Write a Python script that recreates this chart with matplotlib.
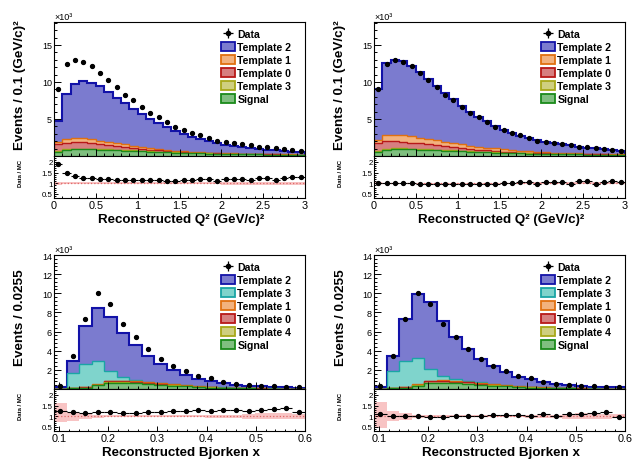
import numpy as np
import matplotlib.pyplot as plt
from matplotlib.ticker import MultipleLocator, FuncFormatter
from matplotlib.patches import Patch
from matplotlib.lines import Line2D

plt.rcParams['font.family'] = ['Liberation Sans', 'DejaVu Sans']

W, H = 637, 464

# ---------------- Q^2 : 30 bins of 0.1 (GeV/c)^2, counts in 10^3 ----------------
q2_edges = np.round(np.arange(31) * 0.1, 4)
q2_data = [8.99, 12.40, 12.90, 12.75, 12.10, 11.20, 10.30, 9.30, 8.27, 7.55,
           6.66, 5.85, 5.31, 4.55, 3.97, 3.56, 3.16, 2.85, 2.49, 2.09,
           1.90, 1.73, 1.59, 1.46, 1.28, 1.19, 1.05, 0.96, 0.83, 0.74]

# pre-fit templates
q2_pre_signal = [0.60, 0.83, 0.92, 0.92, 0.92, 0.87, 0.83, 0.78, 0.74, 0.70,
                 0.65, 0.60, 0.56, 0.51, 0.47, 0.43, 0.39, 0.36, 0.33, 0.30,
                 0.28, 0.26, 0.24, 0.22, 0.21, 0.19, 0.18, 0.17, 0.16, 0.15]
q2_pre_t3 = [0.06, 0.07, 0.07, 0.07, 0.07, 0.06, 0.06, 0.06, 0.05, 0.05,
             0.05, 0.04, 0.04, 0.04, 0.03, 0.03, 0.03, 0.03, 0.02, 0.02,
             0.02, 0.02, 0.02, 0.02, 0.01, 0.01, 0.01, 0.01, 0.01, 0.01]
q2_pre_t0 = [0.94, 0.92, 0.87, 0.85, 0.74, 0.67, 0.61, 0.53, 0.44, 0.35,
             0.26, 0.23, 0.16, 0.12, 0.09, 0.06, 0.05, 0.04, 0.04, 0.03,
             0.02, 0.02, 0.02, 0.02, 0.02, 0.02, 0.02, 0.02, 0.02, 0.02]
q2_pre_t1 = [0.26, 0.48, 0.54, 0.56, 0.53, 0.48, 0.45, 0.40, 0.37, 0.31,
             0.28, 0.25, 0.20, 0.16, 0.15, 0.13, 0.09, 0.07, 0.06, 0.05,
             0.05, 0.04, 0.03, 0.03, 0.03, 0.03, 0.02, 0.02, 0.02, 0.02]
q2_pre_t2 = [2.83, 6.04, 7.35, 7.75, 7.64, 7.32, 6.70, 6.13, 5.50, 4.99,
             4.40, 3.90, 3.49, 3.07, 2.68, 2.35, 2.06, 1.80, 1.57, 1.36,
             1.16, 1.03, 0.89, 0.81, 0.68, 0.60, 0.55, 0.46, 0.39, 0.32]
q2_pre_ratio = [1.92, 1.49, 1.33, 1.27, 1.24, 1.19, 1.18, 1.17, 1.17, 1.17,
                1.17, 1.17, 1.17, 1.13, 1.13, 1.15, 1.17, 1.20, 1.20, 1.13,
                1.22, 1.22, 1.22, 1.15, 1.27, 1.27, 1.15, 1.27, 1.28, 1.28]
q2_pre_ratio_err = [0.03, 0.02, 0.02, 0.02, 0.02, 0.02, 0.02, 0.02, 0.02, 0.02,
                    0.02, 0.02, 0.02, 0.02, 0.02, 0.02, 0.02, 0.03, 0.03, 0.03,
                    0.03, 0.03, 0.03, 0.03, 0.04, 0.04, 0.04, 0.04, 0.04, 0.04]
q2_pre_band = [0.06, 0.05, 0.05, 0.05, 0.05, 0.05, 0.05, 0.05, 0.05, 0.05,
               0.05, 0.05, 0.05, 0.05, 0.05, 0.05, 0.05, 0.05, 0.05, 0.05,
               0.06, 0.06, 0.06, 0.06, 0.06, 0.06, 0.06, 0.06, 0.07, 0.07]

# post-fit templates
q2_post_signal = [0.60, 0.87, 0.96, 0.96, 0.92, 0.87, 0.83, 0.78, 0.74, 0.70,
                  0.65, 0.60, 0.56, 0.51, 0.47, 0.43, 0.39, 0.36, 0.33, 0.30,
                  0.28, 0.26, 0.24, 0.22, 0.21, 0.19, 0.18, 0.17, 0.16, 0.15]
q2_post_t3 = [0.06, 0.07, 0.07, 0.07, 0.07, 0.06, 0.06, 0.06, 0.05, 0.05,
              0.05, 0.04, 0.04, 0.04, 0.03, 0.03, 0.03, 0.03, 0.02, 0.02,
              0.02, 0.02, 0.02, 0.02, 0.01, 0.01, 0.01, 0.01, 0.01, 0.01]
q2_post_t0 = [1.11, 1.14, 1.01, 0.92, 0.83, 0.80, 0.71, 0.62, 0.53, 0.44,
              0.40, 0.32, 0.27, 0.23, 0.20, 0.14, 0.11, 0.08, 0.08, 0.07,
              0.05, 0.04, 0.04, 0.04, 0.04, 0.04, 0.03, 0.03, 0.03, 0.03]
q2_post_t1 = [0.40, 0.82, 0.86, 0.85, 0.85, 0.76, 0.70, 0.67, 0.63, 0.58,
              0.50, 0.45, 0.41, 0.36, 0.33, 0.31, 0.29, 0.26, 0.22, 0.19,
              0.17, 0.15, 0.12, 0.10, 0.09, 0.08, 0.07, 0.06, 0.05, 0.04]
q2_post_t2 = [6.82, 9.60, 10.05, 9.98, 9.53, 8.91, 8.15, 7.37, 6.50, 5.88,
              5.15, 4.54, 4.05, 3.55, 3.05, 2.64, 2.31, 2.03, 1.80, 1.59,
              1.36, 1.25, 1.14, 1.09, 0.87, 0.79, 0.74, 0.64, 0.55, 0.48]
q2_post_ratio = [1.00, 1.00, 1.00, 1.00, 1.00, 0.99, 0.99, 0.99, 0.99, 0.99,
                 0.99, 0.99, 0.99, 0.97, 0.99, 1.00, 1.01, 1.04, 1.04, 0.98,
                 1.04, 1.04, 1.04, 0.98, 1.09, 1.09, 0.98, 1.06, 1.09, 1.07]
q2_post_ratio_err = [0.02, 0.01, 0.01, 0.01, 0.01, 0.01, 0.01, 0.01, 0.01, 0.01,
                     0.01, 0.01, 0.02, 0.02, 0.02, 0.02, 0.02, 0.02, 0.02, 0.02,
                     0.03, 0.03, 0.03, 0.03, 0.03, 0.03, 0.03, 0.04, 0.04, 0.04]
q2_post_band = [0.04, 0.03, 0.03, 0.03, 0.03, 0.03, 0.03, 0.03, 0.03, 0.03,
                0.03, 0.03, 0.03, 0.03, 0.03, 0.03, 0.03, 0.03, 0.04, 0.04,
                0.04, 0.04, 0.04, 0.04, 0.05, 0.05, 0.05, 0.05, 0.05, 0.05]

# ---------------- Bjorken x : 20 bins of 0.0255 starting at 0.09 ----------------
x_edges = np.round(0.09 + 0.0255 * np.arange(21), 5)
x_data = [0.27, 3.49, 7.27, 10.00, 8.86, 6.82, 5.43, 4.19, 3.18, 2.42,
          1.83, 1.31, 1.13, 0.72, 0.54, 0.44, 0.34, 0.27, 0.20, 0.16]

x_pre_signal = [0.01, 0.07, 0.14, 0.38, 0.66, 0.66, 0.60, 0.53, 0.44, 0.36,
                0.27, 0.20, 0.15, 0.11, 0.08, 0.06, 0.05, 0.04, 0.03, 0.02]
x_pre_t4 = [0.00, 0.01, 0.01, 0.02, 0.03, 0.03, 0.03, 0.03, 0.02, 0.02,
            0.02, 0.01, 0.01, 0.01, 0.01, 0.01, 0.00, 0.00, 0.00, 0.00]
x_pre_t0 = [0.00, 0.03, 0.03, 0.06, 0.12, 0.12, 0.12, 0.10, 0.08, 0.06,
            0.05, 0.04, 0.03, 0.02, 0.01, 0.01, 0.01, 0.01, 0.00, 0.00]
x_pre_t1 = [0.00, 0.03, 0.03, 0.04, 0.07, 0.07, 0.07, 0.06, 0.05, 0.04,
            0.03, 0.03, 0.02, 0.01, 0.01, 0.01, 0.01, 0.00, 0.00, 0.00]
x_pre_t3 = [0.00, 1.52, 2.43, 2.38, 1.05, 0.34, 0.08, 0.05, 0.04, 0.03,
            0.03, 0.02, 0.02, 0.01, 0.01, 0.01, 0.01, 0.01, 0.01, 0.01]
x_pre_t2 = [0.19, 1.27, 3.91, 5.60, 5.62, 4.65, 3.68, 2.70, 1.93, 1.43,
            1.05, 0.73, 0.61, 0.42, 0.33, 0.26, 0.20, 0.15, 0.13, 0.12]
x_pre_ratio = [1.25, 1.20, 1.17, 1.19, 1.19, 1.17, 1.17, 1.20, 1.22, 1.25,
               1.26, 1.28, 1.26, 1.31, 1.28, 1.25, 1.31, 1.32, 1.38, 1.19]
x_pre_ratio_err = [0.05, 0.02, 0.01, 0.01, 0.01, 0.01, 0.01, 0.02, 0.02, 0.02,
                   0.02, 0.03, 0.03, 0.04, 0.04, 0.05, 0.05, 0.06, 0.07, 0.07]
x_pre_band_lo = [0.74, 0.76, 0.86, 0.94, 0.95, 0.95, 0.95, 0.95, 0.95, 0.95,
                 0.95, 0.95, 0.94, 0.94, 0.93, 0.88, 0.86, 0.86, 0.86, 0.88]
x_pre_band_hi = [1.63, 1.22, 1.14, 1.06, 1.05, 1.05, 1.05, 1.05, 1.05, 1.05,
                 1.05, 1.05, 1.06, 1.06, 1.07, 1.12, 1.14, 1.14, 1.14, 1.12]

x_post_signal = [0.01, 0.07, 0.14, 0.36, 0.62, 0.64, 0.60, 0.53, 0.44, 0.36,
                 0.27, 0.20, 0.15, 0.11, 0.08, 0.06, 0.05, 0.04, 0.03, 0.02]
x_post_t4 = [0.00, 0.01, 0.01, 0.02, 0.03, 0.03, 0.03, 0.03, 0.02, 0.02,
             0.02, 0.01, 0.01, 0.01, 0.01, 0.01, 0.00, 0.00, 0.00, 0.00]
x_post_t0 = [0.00, 0.03, 0.04, 0.07, 0.14, 0.15, 0.14, 0.12, 0.10, 0.08,
             0.06, 0.05, 0.04, 0.03, 0.02, 0.01, 0.01, 0.01, 0.00, 0.00]
x_post_t1 = [0.00, 0.03, 0.04, 0.05, 0.09, 0.09, 0.08, 0.07, 0.06, 0.05,
             0.04, 0.03, 0.02, 0.02, 0.01, 0.01, 0.01, 0.00, 0.00, 0.00]
x_post_t3 = [0.00, 1.72, 2.67, 2.74, 1.18, 0.50, 0.21, 0.10, 0.06, 0.03,
             0.03, 0.02, 0.02, 0.01, 0.01, 0.01, 0.01, 0.01, 0.02, 0.02]
x_post_t2 = [0.23, 1.54, 4.38, 6.71, 7.01, 5.74, 4.42, 3.35, 2.50, 1.84,
             1.36, 0.99, 0.84, 0.54, 0.43, 0.34, 0.25, 0.20, 0.15, 0.13]
x_post_ratio = [1.10, 1.03, 1.00, 1.02, 0.98, 0.95, 1.00, 1.02, 1.03, 1.05,
                1.05, 1.08, 1.02, 1.09, 1.02, 1.10, 1.12, 1.14, 1.20, 0.98]
x_post_ratio_err = [0.05, 0.02, 0.01, 0.01, 0.01, 0.01, 0.01, 0.02, 0.02, 0.02,
                    0.02, 0.03, 0.03, 0.04, 0.04, 0.05, 0.05, 0.06, 0.07, 0.07]
x_post_band_lo = [0.43, 0.77, 0.84, 0.94, 0.95, 0.95, 0.95, 0.95, 0.95, 0.95,
                  0.95, 0.95, 0.94, 0.94, 0.93, 0.88, 0.86, 0.86, 0.88, 0.90]
x_post_band_hi = [1.66, 1.23, 1.15, 1.06, 1.05, 1.05, 1.05, 1.05, 1.05, 1.05,
                  1.05, 1.05, 1.06, 1.06, 1.07, 1.12, 1.14, 1.14, 1.12, 1.10]

# template colours: (fill, edge)
BLUE = ('#7b7bcf', '#1212a8')
ORANGE = ('#f2b27e', '#e07010')
RED = ('#d77f80', '#b81818')
YELLOW = ('#cfcf7f', '#a8a818')
GREEN = ('#7fbf7f', '#1a8a1a')
CYAN = ('#7fd4cc', '#1aa5a5')

fig = plt.figure(figsize=(W / 100, H / 100), dpi=100)


def fmt_nozero(v, pos):
    return '' if abs(v) < 1e-9 else f'{v:g}'


def draw_panel(left, top, edges, stack, data, ratio, ratio_err, band_lo, band_hi,
               ymax, ymaj, ymin, xmaj, xmin, ytitle, xtitle):
    """stack is listed bottom -> top as (values, (fill, edge), label)."""
    main = fig.add_axes([left / W, 1 - (top + 134) / H, 251 / W, 134 / H])
    rat = fig.add_axes([left / W, 1 - (top + 176) / H, 251 / W, 42 / H])

    # cumulative sums, drawn from the top layer down like a THStack
    cums = np.cumsum([np.asarray(v, float) for v, _, _ in stack], axis=0)
    for i in range(len(stack) - 1, -1, -1):
        fc, ec = stack[i][1]
        lw = 1.5 if i == len(stack) - 1 else 1.0
        main.stairs(cums[i], edges, baseline=0, fill=True, facecolor=fc,
                    edgecolor='none')
        main.stairs(cums[i], edges, baseline=0, color=ec, lw=lw)

    centers = 0.5 * (edges[1:] + edges[:-1])
    main.plot(centers, data, 'o', color='k', ms=2.8, zorder=5)

    main.set_xlim(edges[0], edges[-1])
    main.set_ylim(0, ymax)
    main.yaxis.set_major_locator(MultipleLocator(ymaj))
    main.yaxis.set_minor_locator(MultipleLocator(ymin))
    main.yaxis.set_major_formatter(FuncFormatter(fmt_nozero))
    main.xaxis.set_major_locator(MultipleLocator(xmaj))
    main.xaxis.set_minor_locator(MultipleLocator(xmin))
    main.tick_params(which='both', direction='in', labelbottom=False,
                     labelsize=6.5, pad=1.5, width=0.7)
    main.tick_params(which='major', length=5)
    main.tick_params(which='minor', length=2.5)
    main.text(0, 1.01, '×10³', transform=main.transAxes, fontsize=6.5,
              ha='left', va='bottom')

    # legend, top entry first
    handles = [(Line2D([], [], marker='+', ms=7.5, mew=0.9, ls='none', color='k'),
                Line2D([], [], marker='o', ms=3, ls='none', color='k'))]
    labels = ['Data']
    for vals, (fc, ec), lab in stack[::-1]:
        handles.append(Patch(facecolor=fc, edgecolor=ec, lw=1.3))
        labels.append(lab)
    main.legend(handles, labels, loc='upper left', bbox_to_anchor=(0.665, 0.945),
                frameon=False, prop={'weight': 'bold', 'size': 7.6},
                borderpad=0, borderaxespad=0, handlelength=1.3, handleheight=0.9,
                handletextpad=0.25, labelspacing=0.28)

    # ratio panel
    lo = np.asarray(band_lo, float)
    hi = np.asarray(band_hi, float)
    rat.stairs(hi, edges, baseline=lo, fill=True, color='#f8c4c4', lw=0)
    rat.axhline(1, color='#e06868', ls=':', lw=0.9)
    rat.errorbar(centers, ratio, xerr=0.5 * np.diff(edges), yerr=ratio_err,
                 fmt='o', color='k', ms=2.8, lw=0.8, capsize=0)
    rat.set_xlim(edges[0], edges[-1])
    rat.set_ylim(0.31, 2.28)
    rat.yaxis.set_major_locator(MultipleLocator(0.5))
    rat.yaxis.set_minor_locator(MultipleLocator(0.1))
    rat.xaxis.set_major_locator(MultipleLocator(xmaj))
    rat.xaxis.set_minor_locator(MultipleLocator(xmin))
    rat.xaxis.set_major_formatter(FuncFormatter(lambda v, p: f'{v:g}'))
    rat.yaxis.set_major_formatter(FuncFormatter(lambda v, p: f'{v:g}'))
    rat.tick_params(which='both', direction='in', width=0.7)
    rat.tick_params(axis='x', which='major', length=3.5, labelsize=7.8, pad=1.5)
    rat.tick_params(axis='x', which='minor', length=1.8)
    rat.tick_params(axis='y', which='major', length=3, labelsize=5.7, pad=1)
    rat.tick_params(axis='y', which='minor', length=1.5)

    for ax in (main, rat):
        for sp in ax.spines.values():
            sp.set_linewidth(0.8)

    fig.text((left - 33.5) / W, 1 - (top + 62) / H, ytitle, rotation=90,
             ha='center', va='center', fontsize=9.7, fontweight='bold')
    fig.text((left - 33) / W, 1 - (top + 150) / H, 'Data / MC', rotation=90,
             ha='center', va='center', fontsize=4.3, fontweight='bold')
    fig.text((left + 127) / W, 1 - (top + 197) / H, xtitle, ha='center',
             va='center', fontsize=9.6, fontweight='bold')


q2_pre = [(q2_pre_signal, GREEN, 'Signal'), (q2_pre_t3, YELLOW, 'Template 3'),
          (q2_pre_t0, RED, 'Template 0'), (q2_pre_t1, ORANGE, 'Template 1'),
          (q2_pre_t2, BLUE, 'Template 2')]
q2_post = [(q2_post_signal, GREEN, 'Signal'), (q2_post_t3, YELLOW, 'Template 3'),
           (q2_post_t0, RED, 'Template 0'), (q2_post_t1, ORANGE, 'Template 1'),
           (q2_post_t2, BLUE, 'Template 2')]
x_pre = [(x_pre_signal, GREEN, 'Signal'), (x_pre_t4, YELLOW, 'Template 4'),
         (x_pre_t0, RED, 'Template 0'), (x_pre_t1, ORANGE, 'Template 1'),
         (x_pre_t3, CYAN, 'Template 3'), (x_pre_t2, BLUE, 'Template 2')]
x_post = [(x_post_signal, GREEN, 'Signal'), (x_post_t4, YELLOW, 'Template 4'),
          (x_post_t0, RED, 'Template 0'), (x_post_t1, ORANGE, 'Template 1'),
          (x_post_t3, CYAN, 'Template 3'), (x_post_t2, BLUE, 'Template 2')]

q2_title = 'Reconstructed Q² (GeV/c)²'
q2_ytitle = 'Events / 0.1 (GeV/c)²'
x_title = 'Reconstructed Bjorken x'
x_ytitle = 'Events / 0.0255'

q2_pre_lo = 1 - np.asarray(q2_pre_band)
q2_pre_hi = 1 + np.asarray(q2_pre_band)
q2_post_lo = 1 - np.asarray(q2_post_band)
q2_post_hi = 1 + np.asarray(q2_post_band)

draw_panel(54, 23, q2_edges, q2_pre, q2_data, q2_pre_ratio, q2_pre_ratio_err,
           q2_pre_lo, q2_pre_hi, 18.1, 5, 1, 0.5, 0.1, q2_ytitle, q2_title)
draw_panel(374, 23, q2_edges, q2_post, q2_data, q2_post_ratio, q2_post_ratio_err,
           q2_post_lo, q2_post_hi, 18.1, 5, 1, 0.5, 0.1, q2_ytitle, q2_title)
draw_panel(54, 256, x_edges, x_pre, x_data, x_pre_ratio, x_pre_ratio_err,
           x_pre_band_lo, x_pre_band_hi, 14, 2, 0.4, 0.1, 0.02, x_ytitle, x_title)
draw_panel(374, 256, x_edges, x_post, x_data, x_post_ratio, x_post_ratio_err,
           x_post_band_lo, x_post_band_hi, 14, 2, 0.4, 0.1, 0.02, x_ytitle, x_title)

fig.savefig('out.png', dpi=100)
